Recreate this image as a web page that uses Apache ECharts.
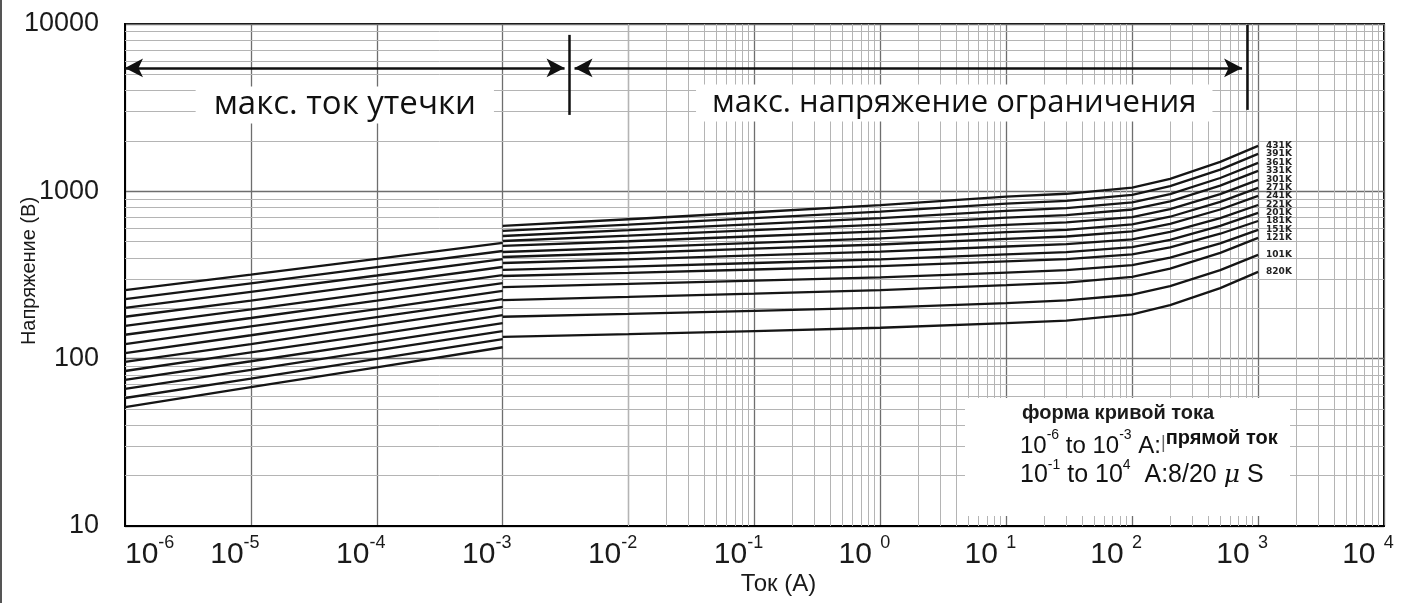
<!DOCTYPE html>
<html><head><meta charset="utf-8">
<script src="https://cdn.jsdelivr.net/npm/echarts@6/dist/echarts.min.js"></script>
<style>html,body{margin:0;padding:0;background:#fff}#c{width:1407px;height:603px}</style>
</head><body><div id="c"></div>
<script>
// ---- data ----
const varistors = ['431K','391K','361K','331K','301K','271K','241K','221K','201K','181K','151K','121K','101K','820K'];
// DC leakage region (A)
const leakX = [1e-6, 1e-5, 1e-4, 1e-3];
const leakV = [
  [257, 318, 395, 492],
  [227, 282, 352, 440],
  [201, 251, 314, 394],
  [178, 222, 280, 353],
  [157, 197, 249, 316],
  [139, 175, 222, 283],
  [122, 156, 198, 254],
  [108, 138, 177, 227],
  [95.6, 122, 158, 204],
  [84.4, 109, 140, 182],
  [74.6, 96.5, 125, 163],
  [65.9, 85.6, 112, 146],
  [58.2, 76.0, 99.6, 131],
  [51.4, 67.5, 88.8, 117]
];
// 8/20 us clamping region (A)
const clampX = [1e-3, 1e-2, 1e-1, 1, 10, 30, 100, 200, 500, 1000];
const clampV = [
  [621, 681, 750, 827, 931, 967, 1052, 1188, 1500, 1868],
  [580, 632, 691, 756, 845, 877, 952, 1073, 1349, 1673],
  [541, 586, 636, 691, 765, 793, 858, 963, 1201, 1478],
  [505, 543, 586, 632, 696, 721, 779, 872, 1081, 1324],
  [472, 503, 539, 577, 630, 652, 702, 782, 963, 1170],
  [434, 461, 492, 524, 570, 589, 634, 705, 865, 1048],
  [405, 428, 454, 481, 520, 537, 577, 639, 779, 939],
  [373, 392, 414, 436, 468, 483, 517, 572, 692, 829],
  [339, 355, 373, 392, 420, 433, 464, 513, 621, 743],
  [312, 326, 341, 357, 381, 393, 420, 463, 558, 665],
  [268, 280, 293, 306, 327, 338, 362, 402, 489, 588],
  [224, 234, 245, 257, 275, 285, 308, 345, 429, 527],
  [178, 185, 193, 202, 215, 223, 241, 271, 338, 417],
  [135, 140, 146, 153, 163, 169, 184, 209, 264, 330]
];
const xTickExp = [-6,-5,-4,-3,-2,-1,0,1,2,3,4];
const yTicks = [10, 100, 1000, 10000];
const leakText = 'макс. ток утечки';
const clampText = 'макс. напряжение ограничения';

// ---- chart ----
const chart = echarts.init(document.getElementById('c'), null, {renderer:'canvas'});
const ink = '#151515';
const series = [];

// minor log grid lines
const minorLines = [];
for (let k = -6; k < 4; k++) for (let m = 2; m <= 9; m++) minorLines.push({xAxis: m * Math.pow(10, k)});
for (let k = 1; k < 4; k++) for (let m = 2; m <= 9; m++) minorLines.push({yAxis: m * Math.pow(10, k)});
series.push({
  type:'line', data:[], silent:true, animation:false, z:1,
  markLine:{silent:true, symbol:'none', animation:false, label:{show:false},
    lineStyle:{color:'#b4b4b4', width:1, type:'solid'}, data:minorLines}
});

varistors.forEach((n, i) => {
  series.push({
    type:'line', name:n + ' DC', data: leakX.map((x, j) => [x, leakV[i][j]]),
    symbol:'none', silent:true, animation:false, z:5,
    lineStyle:{color:ink, width:2.3}
  });
  series.push({
    type:'line', name:n, data: clampX.map((x, j) => [x, clampV[i][j]]),
    symbol:'none', silent:true, animation:false, z:5,
    lineStyle:{color:ink, width:2.3},
    endLabel:{show:true, formatter:n, distance:8, fontSize:9, fontWeight:'bold',
      fontFamily:'DejaVu Sans', color:'#222'}
  });
});

// annotation arrows / ticks / captions
const arrowY = 5465;
series.push({
  type:'line', data:[], silent:true, animation:false, z:6,
  markLine:{silent:true, animation:false, label:{show:false},
    lineStyle:{color:'#111', width:2.5, type:'solid'},
    data:[
      [{coord:[1e-6, arrowY], symbol:'arrow', symbolSize:[14,18]}, {coord:[3.1e-3, arrowY], symbol:'arrow', symbolSize:[14,18]}],
      [{coord:[3.72e-3, arrowY], symbol:'arrow', symbolSize:[14,18]}, {coord:[746, arrowY], symbol:'arrow', symbolSize:[14,18]}],
      [{coord:[3.4e-3, 8610], symbol:'none'}, {coord:[3.4e-3, 2862], symbol:'none'}],
      [{coord:[818, 9877], symbol:'none'}, {coord:[818, 3067], symbol:'none'}]
    ]},
  markPoint:{silent:true, animation:false, symbol:'rect', symbolSize:0,
    label:{show:true, position:'inside', formatter:'{b}', fontFamily:'Open Sans', fontSize:31,
      color:'#111', backgroundColor:'#fff', padding:[3,16]},
    data:[
      {name:leakText, coord:[5.57e-5, 3284], label:{fontSize:33, padding:[2,18]}},
      {name:clampText, coord:[3.86, 3377]}
    ]}
});

const supRich = {
  b:{fontSize:30, fontFamily:'Liberation Sans', color:'#1a1a1a', lineHeight:36, verticalAlign:'bottom'},
  s:{fontSize:18, fontFamily:'Liberation Sans', color:'#1a1a1a', lineHeight:18, verticalAlign:'top'}
};

chart.setOption({
  backgroundColor:'#fff',
  animation:false,
  grid:{left:125, right:23, top:24, bottom:77, show:true, borderColor:'#000', borderWidth:2,
    containLabel:false, outerBoundsMode:'none'},
  xAxis:{
    type:'log', logBase:10, min:1e-6, max:1e4, interval:1, splitNumber:10,
    name:'Ток (A)', nameLocation:'middle', nameGap:46, nameMoveOverlap:false,
    nameTextStyle:{fontFamily:'Liberation Sans', fontSize:24, color:'#1a1a1a', padding:[0,0,0,48]},
    axisLine:{show:true, onZero:false, lineStyle:{color:'#000', width:2}},
    axisTick:{show:false},
    splitLine:{show:true, lineStyle:{color:'#6e6e6e', width:1.3}},
    axisLabel:{margin:8, alignMinLabel:'left', padding:[0,32,0,0],
      formatter:(v) => {
        const e = Math.round(Math.log10(v));
        if (xTickExp.indexOf(e) < 0) return '';
        return e < 0 ? '{b|10}{s|' + e + '}' : '{b|10 }{s|' + e + '}';
      },
      rich:supRich}
  },
  yAxis:{
    type:'log', logBase:10, min:10, max:10000, interval:1, splitNumber:3,
    name:'Напряжение (В)', nameLocation:'middle', nameGap:86, nameRotate:90, nameMoveOverlap:false,
    nameTextStyle:{fontFamily:'Liberation Sans', fontSize:20, color:'#1a1a1a', padding:[0,0,0,8]},
    axisLine:{show:true, onZero:false, lineStyle:{color:'#000', width:2}},
    axisTick:{show:false},
    splitLine:{show:true, lineStyle:{color:'#6e6e6e', width:1.3}},
    axisLabel:{margin:26, fontFamily:'Liberation Sans', fontSize:27, color:'#1a1a1a',
      formatter:(v) => { const r = Math.round(v); return yTicks.indexOf(r) >= 0 ? String(r) : ''; }}
  },
  graphic:[
    {type:'line', shape:{x1:1, y1:0, x2:1, y2:603}, style:{stroke:'#555', lineWidth:2}, z:10},
    {type:'rect', shape:{x:965, y:398, width:325, height:118}, style:{fill:'#fff'}, z:8},
    {type:'text', x:1022, y:413, z:9, style:{text:'форма кривой тока', font:'bold 20px "Liberation Sans"', fill:'#1a1a1a', verticalAlign:'middle'}},
    {type:'text', x:1020, y:443, z:9, style:{
      text:'{b|10}{s|-6}{b| to 10}{s|-3}{b| A:}{c||}{d|прямой ток}',
      verticalAlign:'middle',
      rich:{
        b:{font:'24px "Liberation Sans"', fill:'#111', lineHeight:30, verticalAlign:'bottom'},
        s:{font:'14px "Liberation Sans"', fill:'#111', lineHeight:14, verticalAlign:'top'},
        c:{font:'18px "Liberation Sans"', fill:'#666', lineHeight:22},
        d:{font:'bold 20px "Liberation Sans"', fill:'#111', lineHeight:22, verticalAlign:'top'}
      }}},
    {type:'text', x:1020, y:473, z:9, style:{
      text:'{b|10}{s|-1}{b| to 10}{s|4}{b|  A:8/20 }{m|μ}{b| S}',
      verticalAlign:'middle',
      rich:{
        b:{font:'25px "Liberation Sans"', fill:'#111', lineHeight:30, verticalAlign:'bottom'},
        s:{font:'14px "Liberation Sans"', fill:'#111', lineHeight:14, verticalAlign:'top'},
        m:{font:'italic 25px "DejaVu Serif"', fill:'#111', lineHeight:30, verticalAlign:'bottom'}
      }}}
  ],
  series: series
});
</script></body></html>
